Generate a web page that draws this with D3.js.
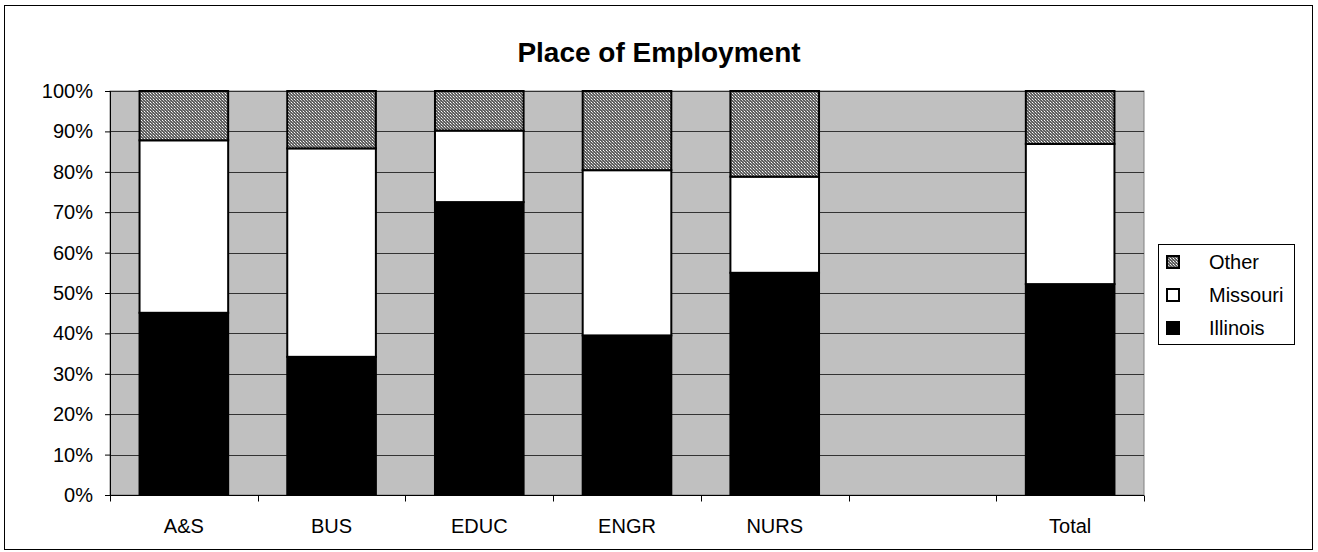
<!DOCTYPE html>
<html>
<head>
<meta charset="utf-8">
<script src="https://cdn.jsdelivr.net/npm/d3@7"></script>
<style>
  body { margin: 0; background: #fff; }
  text { font-family: "Liberation Sans", Arial, sans-serif; }
</style>
</head>
<body>
<div id="vis"></div>
<script>
// chart values
var categories = ["A&S", "BUS", "EDUC", "ENGR", "NURS", "", "Total"]
var illinois = [45.1, 34.2, 72.5, 39.5, 55.0, null, 52.2]
var missouri = [42.7, 51.6, 17.7, 40.9, 23.8, null, 34.7]
var other = [12.2, 14.2, 9.8, 19.6, 21.2, null, 13.1]
var seriesNames = ["Illinois", "Missouri", "Other"]
var yTicks = [0, 10, 20, 30, 40, 50, 60, 70, 80, 90, 100]

var width = 1318, height = 552
var margin = {top: 91, left: 110, right: 174, bottom: 57}

var svg = d3.select("#vis").append("svg")
    .attr("width", width).attr("height", height)

// dotted pattern for "Other"
var defs = svg.append("defs")
var pat = defs.append("pattern").attr("id", "dots")
    .attr("width", 3).attr("height", 3).attr("patternUnits", "userSpaceOnUse")
pat.append("rect").attr("width", 3).attr("height", 3).attr("fill", "#5e5e5e")
pat.append("rect").attr("x", 0).attr("y", 0).attr("width", 1).attr("height", 1).attr("fill", "#ffffff")
pat.append("rect").attr("x", 1).attr("y", 1).attr("width", 1).attr("height", 1).attr("fill", "#c8c8c8")
pat.append("rect").attr("x", 2).attr("y", 2).attr("width", 1).attr("height", 1).attr("fill", "#9a9a9a")

var fills = {"Illinois": "#000", "Missouri": "#fff", "Other": "url(#dots)"}

// outer frame
svg.append("rect").attr("x", 4.5).attr("y", 5.5)
    .attr("width", 1308).attr("height", 544)
    .attr("fill", "#fff").attr("stroke", "#000").attr("stroke-width", 1)

svg.append("text").attr("x", 659).attr("y", 62)
    .attr("text-anchor", "middle")
    .attr("font-size", "28px").attr("font-weight", "bold")
    .text("Place of Employment")

var x = d3.scaleBand().domain(d3.range(categories.length))
    .range([margin.left, width - margin.right])
    .paddingInner(0.4).paddingOuter(0.2)
var xb = d3.scaleBand().domain(d3.range(categories.length))
    .range([margin.left, width - margin.right])
var y = d3.scaleLinear().domain([0, 100])
    .range([height - margin.bottom, margin.top])

var g = svg.append("g")

// plot area
g.append("rect")
    .attr("x", margin.left).attr("y", margin.top)
    .attr("width", width - margin.right - margin.left)
    .attr("height", y(0) - y(100))
    .attr("fill", "#c0c0c0").attr("stroke", "#808080").attr("stroke-width", 1)

// gridlines
g.selectAll(".grid").data(yTicks.slice(1)).enter().append("line")
    .attr("class", "grid")
    .attr("x1", margin.left).attr("x2", width - margin.right)
    .attr("y1", function(d){ return Math.round(y(d)) + 0.5 })
    .attr("y2", function(d){ return Math.round(y(d)) + 0.5 })
    .attr("stroke", "#333").attr("stroke-width", 1)

// stacked bars
var rows = categories.map(function(c, i){
    return {i: i, Illinois: illinois[i], Missouri: missouri[i], Other: other[i]}
}).filter(function(d){ return d.Illinois != null })
var stack = d3.stack().keys(seriesNames)(rows)

stack.forEach(function(layer){
    g.selectAll(".bar-" + layer.key).data(layer).enter().append("rect")
        .attr("x", function(d){ return x(d.data.i) })
        .attr("width", x.bandwidth())
        .attr("y", function(d){ return y(d[1]) })
        .attr("height", function(d){ return y(d[0]) - y(d[1]) })
        .attr("fill", fills[layer.key])
        .attr("stroke", "#000").attr("stroke-width", 2)
})

// y axis
var yAxis = g.append("g")
    .attr("transform", "translate(" + margin.left + ",0)")
    .call(d3.axisLeft(y).tickValues(yTicks).tickSize(5).tickPadding(12)
        .tickFormat(function(d){ return d + "%" }))
yAxis.selectAll("text").attr("font-size", "20px").attr("fill", "#000")
    .style("font-family", "Liberation Sans, Arial, sans-serif")
yAxis.selectAll("line,path").attr("stroke", "#000")
yAxis.select(".domain").attr("d", "M0.5," + y(0) + "V" + y(100))

// x axis
var xg = g.append("g").attr("transform", "translate(0," + (y(0) + 0.5) + ")")
xg.append("line").attr("x1", margin.left).attr("x2", width - margin.right)
    .attr("stroke", "#000")
xg.selectAll(".xt").data(d3.range(categories.length + 1)).enter().append("line")
    .attr("x1", function(d){ return Math.round(margin.left + d * xb.step()) + 0.5 })
    .attr("x2", function(d){ return Math.round(margin.left + d * xb.step()) + 0.5 })
    .attr("y1", 0).attr("y2", 6).attr("stroke", "#000")
xg.selectAll(".xl").data(categories).enter().append("text")
    .attr("x", function(d, i){ return xb(i) + xb.bandwidth() / 2 })
    .attr("y", 37)
    .attr("text-anchor", "middle").attr("font-size", "20px")
    .text(function(d){ return d })

// legend
var lg = svg.append("g")
lg.append("rect").attr("x", 1158.5).attr("y", 244.5)
    .attr("width", 136).attr("height", 100)
    .attr("fill", "#fff").attr("stroke", "#000")
var legendItems = seriesNames.slice().reverse()
legendItems.forEach(function(name, k){
    var ly = 262 + k * 33
    lg.append("rect").attr("x", 1167).attr("y", ly - 6)
        .attr("width", 12).attr("height", 12)
        .attr("fill", fills[name]).attr("stroke", "#000").attr("stroke-width", 2)
    lg.append("text").attr("x", 1209).attr("y", ly + 7)
        .attr("font-size", "20px").text(name)
})
</script>
</body>
</html>
